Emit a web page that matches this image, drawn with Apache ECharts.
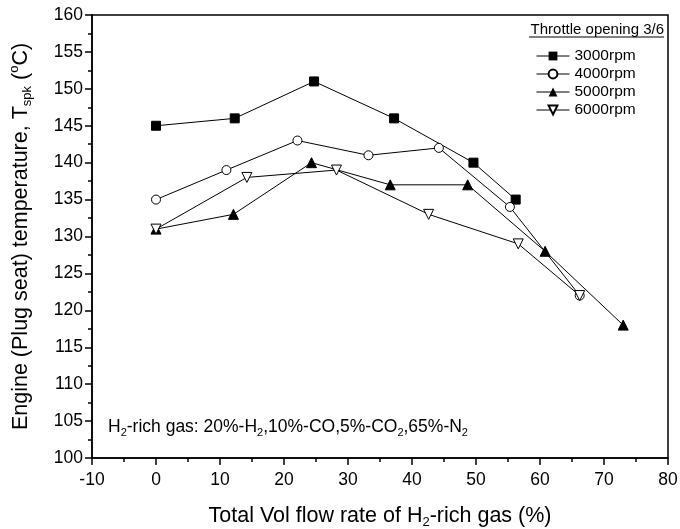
<!DOCTYPE html>
<html><head><meta charset="utf-8">
<script src="https://cdn.jsdelivr.net/npm/echarts@6/dist/echarts.min.js"></script>
<style>html,body{margin:0;padding:0;background:#fff}#c{width:680px;height:529px}</style>
</head><body><div id="c"></div>
<script>
// ---- data ----
const seriesNames = ['3000rpm', '4000rpm', '5000rpm', '6000rpm'];
const flow3000 = [0, 12.3, 24.7, 37.2, 49.6, 56.2];
const temp3000 = [145, 146, 151, 146, 140, 135];
const flow4000 = [0, 11.0, 22.1, 33.2, 44.2, 55.3, 66.2];
const temp4000 = [135, 139, 143, 141, 142, 134, 122];
const flow5000 = [0, 12.1, 24.3, 36.6, 48.7, 60.8, 73.0];
const temp5000 = [131, 133, 140, 137, 137, 128, 118];
const flow6000 = [0, 14.2, 28.2, 42.6, 56.6, 66.2];
const temp6000 = [131, 138, 139, 133, 129, 122];
const xMin = -10, xMax = 80, xStep = 10;
const yMin = 100, yMax = 160, yStep = 5;
const legendTitle = 'Throttle opening 3/6';

const FONT = 'Liberation Sans, Arial, sans-serif';
const zip = (xs, ys) => xs.map((x, i) => [x, ys[i]]);

const richBase = {
  b: {fontSize: 21.5, lineHeight: 26, fontFamily: FONT, color: '#000'},
  s: {fontSize: 13, lineHeight: 6, fontFamily: FONT, color: '#000', verticalAlign: 'bottom'},
  p: {fontSize: 13, lineHeight: 6, fontFamily: FONT, color: '#000', verticalAlign: 'top'}
};
const richNote = {
  b: {fontSize: 17.5, lineHeight: 22, fontFamily: FONT, color: '#000'},
  s: {fontSize: 11, lineHeight: 6, fontFamily: FONT, color: '#000', verticalAlign: 'bottom'}
};

const common = {
  type: 'line',
  symbolSize: 9,
  lineStyle: {color: '#000', width: 1},
  animation: false
};

const option = {
  animation: false,
  backgroundColor: '#fff',
  grid: {left: 92, right: 12, top: 15, bottom: 71, containLabel: false, outerBoundsMode: 'none',
    show: true, borderColor: '#000', borderWidth: 1.5, backgroundColor: 'transparent'},
  legend: {
    data: seriesNames,
    orient: 'vertical',
    left: 531, top: 43,
    itemWidth: 33, itemHeight: 11, itemGap: 2,
    lineStyle: {width: 1},
    textStyle: {fontFamily: FONT, fontSize: 15.5, color: '#000'},
    selectedMode: false
  },
  xAxis: {
    type: 'value', min: xMin, max: xMax, interval: xStep,
    name: '{b|Total Vol flow rate of H}{s|2}{b|-rich gas (%)}',
    nameLocation: 'middle', nameGap: 45,
    nameTextStyle: {rich: richBase},
    axisLine: {show: true, onZero: false, lineStyle: {color: '#000', width: 1.5}},
    axisTick: {show: true, length: 7, lineStyle: {color: '#000', width: 1.5}},
    minorTick: {show: true, splitNumber: 2, length: 4, lineStyle: {color: '#000', width: 1.5}},
    axisLabel: {color: '#000', fontFamily: FONT, fontSize: 17.5, margin: 13},
    splitLine: {show: false}
  },
  yAxis: {
    type: 'value', min: yMin, max: yMax, interval: yStep,
    name: '{b|Engine (Plug seat) temperature, T}{s|spk}{b| (}{p|o}{b|C)}',
    nameLocation: 'middle', nameGap: 58, nameRotate: 90,
    nameTextStyle: {rich: richBase},
    axisLine: {show: true, onZero: false, lineStyle: {color: '#000', width: 1.5}},
    axisTick: {show: true, length: 7, lineStyle: {color: '#000', width: 1.5}},
    minorTick: {show: true, splitNumber: 2, length: 4, lineStyle: {color: '#000', width: 1.5}},
    axisLabel: {color: '#000', fontFamily: FONT, fontSize: 17.5, margin: 9},
    splitLine: {show: false}
  },
  series: [
    Object.assign({}, common, {name: seriesNames[0], data: zip(flow3000, temp3000), symbol: 'rect',
      itemStyle: {color: '#000', borderColor: '#000'}}),
    Object.assign({}, common, {name: seriesNames[1], data: zip(flow4000, temp4000), symbol: 'circle',
      itemStyle: {color: '#fff', borderColor: '#000', borderWidth: 1}}),
    Object.assign({}, common, {name: seriesNames[2], data: zip(flow5000, temp5000), symbol: 'triangle', symbolSize: 10,
      itemStyle: {color: '#000', borderColor: '#000'}}),
    Object.assign({}, common, {name: seriesNames[3], data: zip(flow6000, temp6000), symbol: 'triangle', symbolSize: 10, symbolRotate: 180,
      itemStyle: {color: '#fff', borderColor: '#000', borderWidth: 1}})
  ],
  graphic: [
    {type: 'text', right: 16, top: 22, style: {text: legendTitle, font: '15px ' + FONT, fill: '#000'}},
    {type: 'line', shape: {x1: 529, y1: 37, x2: 664, y2: 37}, style: {stroke: '#000', lineWidth: 1}},
    {type: 'text', left: 108, top: 418, style: {
      text: '{b|H}{s|2}{b|-rich gas: 20%-H}{s|2}{b|,10%-CO,5%-CO}{s|2}{b|,65%-N}{s|2}',
      rich: richNote}}
  ]
};

const chart = echarts.init(document.getElementById('c'), null, {renderer: 'canvas'});
chart.setOption(option);
</script>
</body></html>
